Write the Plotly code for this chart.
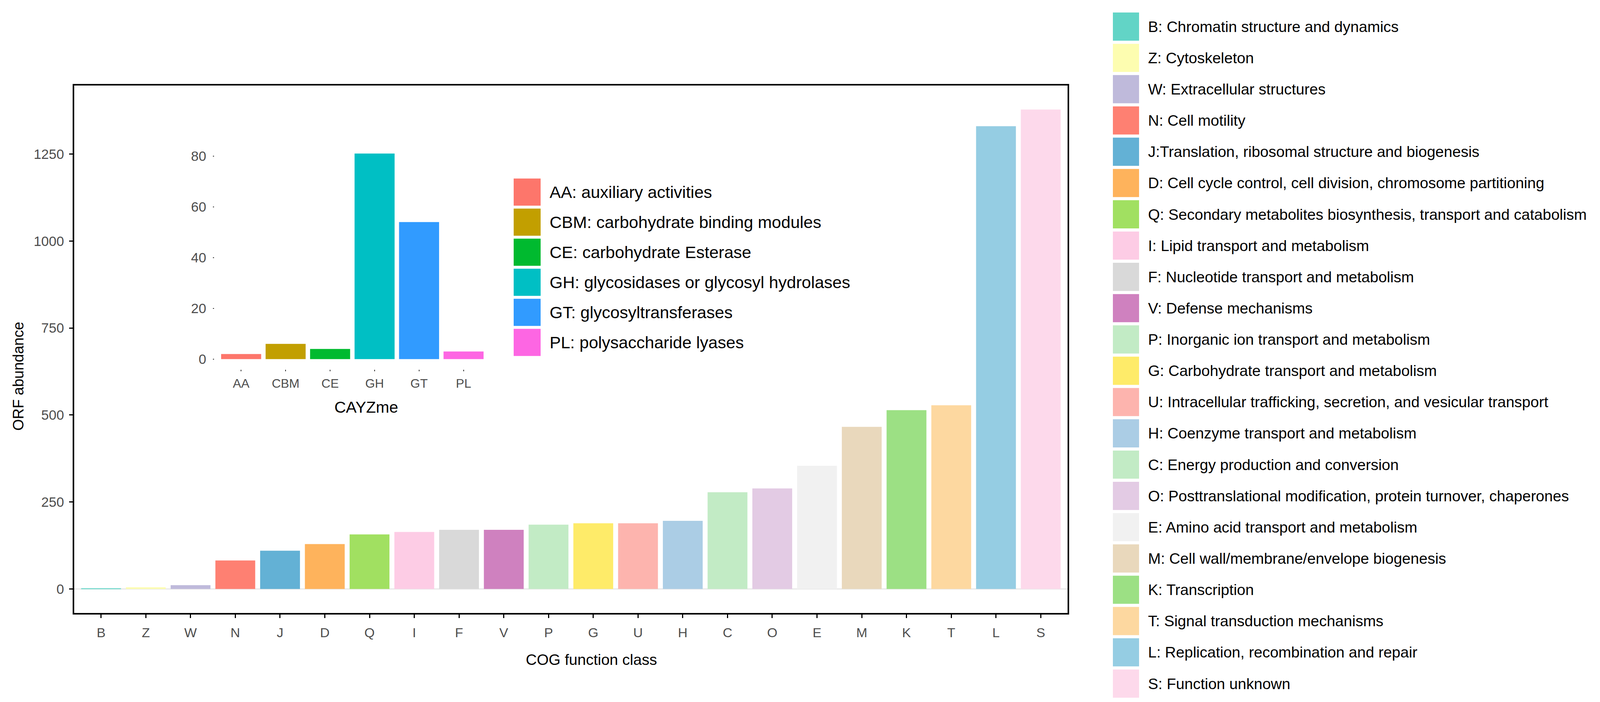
import plotly.graph_objects as go

W, H = 4131, 1798

# main chart: COG function classes
cog_classes = ["B", "Z", "W", "N", "J", "D", "Q", "I", "F", "V", "P",
               "G", "U", "H", "C", "O", "E", "M", "K", "T", "L", "S"]
cog_counts = [2, 5, 11, 82, 110, 129, 157, 164, 170, 170, 185,
              189, 189, 196, 278, 289, 354, 466, 514, 528, 1330, 1378]
cog_colors = ["#62d4c6", "#fdfdb0", "#bfbadb", "#fe8072", "#63b1d5", "#feb35c",
              "#a1e061", "#fdcce5", "#d9d9d9", "#cf81bf", "#c2ebc5", "#feeb69",
              "#fdb4ae", "#abcde5", "#c2ebc5", "#e3cbe4", "#f1f1f1", "#e9d8bc",
              "#9ce084", "#fdd8a0", "#95cde3", "#fdd9eb"]
cog_labels = [
    "B: Chromatin structure and dynamics",
    "Z: Cytoskeleton",
    "W: Extracellular structures",
    "N: Cell motility",
    "J:Translation, ribosomal structure and biogenesis",
    "D: Cell cycle control, cell division, chromosome partitioning",
    "Q: Secondary metabolites biosynthesis, transport and catabolism",
    "I: Lipid transport and metabolism",
    "F: Nucleotide transport and metabolism",
    "V: Defense mechanisms",
    "P: Inorganic ion transport and metabolism",
    "G: Carbohydrate transport and metabolism",
    "U: Intracellular trafficking, secretion, and vesicular transport",
    "H: Coenzyme transport and metabolism",
    "C: Energy production and conversion",
    "O: Posttranslational modification, protein turnover, chaperones",
    "E: Amino acid transport and metabolism",
    "M: Cell wall/membrane/envelope biogenesis",
    "K: Transcription",
    "T: Signal transduction mechanisms",
    "L: Replication, recombination and repair",
    "S: Function unknown",
]
main_yticks = [0, 250, 500, 750, 1000, 1250]

# inset chart: CAZyme families
cazy_classes = ["AA", "CBM", "CE", "GH", "GT", "PL"]
cazy_counts = [2, 6, 4, 81, 54, 3]
cazy_colors = ["#fd766b", "#c29f00", "#00ba2f", "#00bfc4", "#319bff", "#fd66e3"]
cazy_labels = [
    "AA: auxiliary activities",
    "CBM: carbohydrate binding modules",
    "CE: carbohydrate Esterase",
    "GH: glycosidases or glycosyl hydrolases",
    "GT: glycosyltransferases",
    "PL: polysaccharide lyases",
]
inset_yticks = [0, 20, 40, 60, 80]

FONT = "Arial, Liberation Sans, sans-serif"
GREY = "#4d4d4d"


def px(x):
    return x / W


def py(y):
    return 1 - y / H


fig = go.Figure()

# main bars
fig.add_trace(go.Bar(
    x=cog_classes, y=cog_counts, marker=dict(color=cog_colors, line_width=0),
    width=0.89, xaxis="x", yaxis="y", showlegend=False,
))

# inset bars
fig.add_trace(go.Bar(
    x=cazy_classes, y=cazy_counts, marker=dict(color=cazy_colors, line_width=0),
    width=0.9, xaxis="x2", yaxis="y2", showlegend=False,
))

# inset legend (swatches as bars)
fig.add_trace(go.Bar(
    y=cazy_labels, x=[1] * len(cazy_labels), orientation="h",
    marker=dict(color=cazy_colors, line_width=0), width=0.9,
    xaxis="x3", yaxis="y3", showlegend=False,
))

# main legend (swatches as bars)
fig.add_trace(go.Bar(
    y=cog_labels, x=[1] * len(cog_labels), orientation="h",
    marker=dict(color=cog_colors, line_width=0), width=0.9,
    xaxis="x4", yaxis="y4", showlegend=False,
))

ymax = max(cog_counts)
imax = max(cazy_counts)

fig.update_layout(
    width=W, height=H,
    margin=dict(l=0, r=0, t=0, b=0),
    paper_bgcolor="white", plot_bgcolor="white",
    font=dict(family=FONT, color="black"),
    hovermode=False,
    # main axes
    xaxis=dict(
        domain=[px(182), px(2725)], anchor="y",
        type="category", categoryarray=cog_classes, range=[-0.6, len(cog_classes) - 0.4],
        showline=True, mirror=True, linecolor="black", linewidth=4,
        ticks="outside", ticklen=9, tickwidth=3, tickcolor="black",
        tickfont=dict(size=34, color=GREY), ticklabelstandoff=8,
        showgrid=False, zeroline=False,
    ),
    yaxis=dict(
        domain=[py(1562), py(211)], anchor="x",
        range=[-0.05 * ymax, 1.05 * ymax],
        tickvals=main_yticks,
        showline=True, mirror=True, linecolor="black", linewidth=4,
        ticks="outside", ticklen=9, tickwidth=3, tickcolor="black",
        tickfont=dict(size=35, color=GREY), ticklabelstandoff=6,
        showgrid=False, zeroline=True, zerolinecolor="#e8e8e8", zerolinewidth=3,
    ),
    # inset axes
    xaxis2=dict(
        domain=[px(541), px(1247)], anchor="y2",
        type="category", categoryarray=cazy_classes, range=[-0.6, len(cazy_classes) - 0.4],
        showgrid=True, gridcolor="white", gridwidth=3.5,
        ticks="outside", ticklen=4, tickwidth=2, tickcolor="#333333",
        tickfont=dict(size=32, color=GREY), ticklabelstandoff=4,
        showline=False, zeroline=False,
    ),
    yaxis2=dict(
        domain=[py(938), py(359)], anchor="x2",
        range=[-0.05 * imax, 1.05 * imax],
        tickvals=inset_yticks,
        showgrid=True, gridcolor="white", gridwidth=4,
        minor=dict(showgrid=True, gridcolor="white", gridwidth=2, dtick=10, tick0=0),
        ticks="outside", ticklen=3, tickwidth=2, tickcolor="#333333",
        tickfont=dict(size=35, color=GREY), ticklabelstandoff=10,
        showline=False, zeroline=False,
    ),
    # inset legend axes
    xaxis3=dict(
        domain=[px(1307), px(1376)], anchor="y3", range=[0, 1],
        visible=False, showgrid=False, zeroline=False,
    ),
    yaxis3=dict(
        domain=[py(907.5), py(445.5)], anchor="x3",
        type="category", categoryarray=cazy_labels,
        range=[len(cazy_labels) - 0.5, -0.5], side="right",
        showgrid=False, zeroline=False, showline=False, ticks="",
        tickfont=dict(size=43, color="black"), ticklabelstandoff=22,
    ),
    # main legend axes
    xaxis4=dict(
        domain=[px(2841), px(2908)], anchor="y4", range=[0, 1],
        visible=False, showgrid=False, zeroline=False,
    ),
    yaxis4=dict(
        domain=[py(1783), py(20)], anchor="x4",
        type="category", categoryarray=cog_labels,
        range=[len(cog_labels) - 0.5, -0.5], side="right",
        showgrid=False, zeroline=False, showline=False, ticks="",
        tickfont=dict(size=39, color="black"), ticklabelstandoff=22,
    ),
    shapes=[
        # grey panel behind the inset
        dict(type="rect", xref="x2 domain", yref="y2 domain", x0=0, x1=1, y0=0, y1=1,
             fillcolor="#ebebeb", line_width=0, layer="below"),
    ],
    annotations=[
        dict(text="ORF abundance", x=px(39), y=py(956), xref="paper", yref="paper",
             textangle=-90, showarrow=False, font=dict(size=38, color="black"),
             xanchor="center", yanchor="middle"),
        dict(text="COG function class", x=px(1506), y=py(1681), xref="paper", yref="paper",
             showarrow=False, font=dict(size=39, color="black"),
             xanchor="center", yanchor="middle"),
        dict(text="CAYZme", x=px(929), y=py(1035), xref="paper", yref="paper",
             showarrow=False, font=dict(size=41, color="black"),
             xanchor="center", yanchor="middle"),
    ],
)

fig.write_html("out.html")
